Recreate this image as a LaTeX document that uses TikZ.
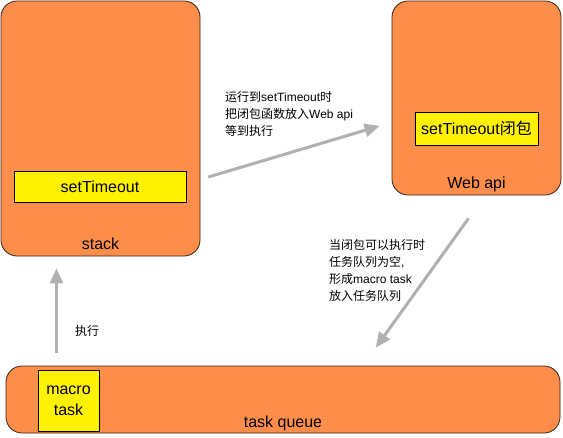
\documentclass[tikz,border=0pt]{standalone}
\usepackage{fontspec}
\setmainfont{Liberation Sans}
\newfontfamily\zh{Noto Sans CJK SC}
\usepackage{tikz}
\usetikzlibrary{positioning,arrows.meta}
\definecolor{boxfill}{RGB}{255,142,74}
\definecolor{boxline}{RGB}{50,35,25}
\definecolor{arrgray}{RGB}{176,176,176}

\begin{document}
\begin{tikzpicture}
            [x=1pt,y=-1pt,
             box/.style={draw=boxline,fill=boxfill,rounded corners=16pt,line width=0.8pt,inner sep=0pt},
             inner/.style={draw=black,fill=yellow,line width=0.8pt,inner sep=0pt,font=\fontsize{16}{21}\selectfont},
             lbl/.style={font=\fontsize{16}{20}\selectfont,inner sep=0pt,anchor=base},
             note/.style={font=\fontsize{12}{17}\selectfont,align=left,inner sep=0pt,anchor=north west},
             arr/.style={draw=arrgray,line width=3pt,-{Triangle[length=15pt,width=13pt]}}]
            \useasboundingbox (0,0) rectangle (563,437);
            % the three boxes
            \node[box,minimum width=199pt,minimum height=255pt](stack) at (100.5,128.5){};
            \node[box,minimum width=169pt,minimum height=194pt](web) at (476.5,98){};
            \node[box,minimum width=554pt,minimum height=67pt](queue) at (283,399.5){};
            \node[lbl] at ([yshift=7pt]stack.south){stack};
            \node[lbl] at ([yshift=7pt]web.south){Web api};
            \node[lbl] at ([yshift=6pt]queue.south){task queue};
            % what sits in them
            \node[inner,minimum width=172pt,minimum height=31pt](timer) at (100,186.5){setTimeout};
            \node[inner,minimum width=123pt,minimum height=33pt](closure) at (476.5,128.5){setTimeout{\zh 闭包}};
            \node[inner,minimum width=61pt,minimum height=61pt,align=center](macro) at (68.5,400.5){macro\\task};
            % notes
            \node[note](n1) at (225,91){{\zh 运行到}setTimeout{\zh 时}\\{\zh 把闭包函数放入}Web api\\{\zh 等到执行}};
            \node[note](n2) at (329,239){{\zh 当闭包可以执行时}\\{\zh 任务队列为空},\\{\zh 形成}macro task\\{\zh 放入任务队列}};
            \node[note,anchor=west](n3) at (75,331){\zh 执行};
            \draw[arr,shorten <=8.3pt,shorten >=12.5pt](stack.-27.5) -- (web.196.7);
            \draw[arr,shorten <=28.4pt,shorten >=22.2pt](web.-85.8) -- (queue.23.5);
            \draw[arr,shorten <=13pt,shorten >=12pt](stack.251.57 |- queue.north) -- (stack.251.57);
        \end{tikzpicture}
\end{document}
